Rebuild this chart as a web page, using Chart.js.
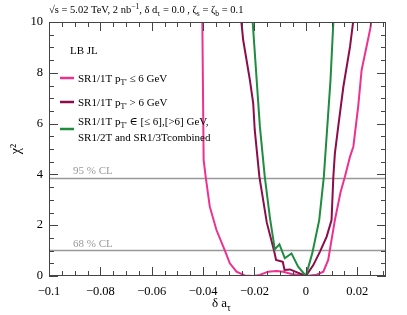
<!DOCTYPE html>
<html>
<head>
<meta charset="utf-8">
<script src="https://cdn.jsdelivr.net/npm/chart.js@4"></script>
<style>
  html, body { margin: 0; padding: 0; background: #fff; }
  canvas { display: block; }
</style>
</head>
<body>
<canvas id="chi2" width="407" height="315"></canvas>
<script>
// ---- data ----
const xTicks = [-0.1, -0.08, -0.06, -0.04, -0.02, 0, 0.02];
const yTicks = [0, 2, 4, 6, 8, 10];

// SR1/1T pT' <= 6 GeV
const lowX = [-0.0405, -0.0403, -0.0398, -0.039, -0.0374, -0.0348, -0.0316, -0.0296, -0.027, -0.0238, -0.0205, -0.018, -0.0147, -0.0114, -0.0088, -0.0056, 0, 0.0042, 0.0068, 0.0087, 0.0100, 0.0113, 0.0135, 0.0152, 0.0172, 0.0185, 0.0204, 0.0217, 0.0252, 0.0262];
const lowY = [11, 10, 4.57, 3.9, 2.73, 1.81, 1.02, 0.5, 0.17, 0.02, 0, 0.04, 0.17, 0.2, 0.17, 0.08, 0, 0.05, 0.17, 0.63, 1.42, 2.2, 3.3, 3.91, 4.7, 5.1, 6.7, 8.1, 9.8, 10.6];

// SR1/1T pT' > 6 GeV
const highX = [-0.0254, -0.0251, -0.0244, -0.0218, -0.0205, -0.0199, -0.0181, -0.0152, -0.0123, -0.0116, -0.0090, -0.0083, -0.0062, 0, 0.0029, 0.0055, 0.0081, 0.0100, 0.0107, 0.0113, 0.0126, 0.0146, 0.0172, 0.0185, 0.0190];
const highY = [11, 10, 9.29, 7.72, 6.8, 5.75, 3.91, 2.1, 0.96, 0.63, 0.56, 0.24, 0.26, 0, 0.43, 0.96, 1.55, 2.2, 3.91, 4.83, 5.88, 7.45, 9.03, 10.08, 11];

// combined
const combX = [-0.0210, -0.0207, -0.0179, -0.0160, -0.0140, -0.0121, -0.0103, -0.0082, -0.0056, -0.0030, 0, 0.0025, 0.0052, 0.0070, 0.0096, 0.0107, 0.0110];
const combY = [11, 10, 5.88, 3.91, 2.3, 1.05, 1.25, 0.7, 0.89, 0.37, 0, 0.9, 2.2, 3.91, 7.72, 10, 11];

const clLevels = [3.84, 1.0];
const clLabels = ["95 % CL", "68 % CL"];

const colLow = "#ee3190";
const colHigh = "#8d0c4a";
const colComb = "#1f8c40";
const serif = '"Liberation Serif", "DejaVu Serif", serif';

const pts = (xs, ys) => xs.map((x, i) => ({ x: x, y: ys[i] }));
const xMin = -0.1, xMax = 0.0312;

function richText(ctx, x, y, parts, size) {
    for (const [t, kind] of parts) {
        const fs = kind === "n" ? size : size * 0.72;
        const dy = kind === "sub" ? size * 0.3 : kind === "sup" ? -size * 0.42 : 0;
        ctx.font = fs + "px " + serif;
        ctx.fillText(t, x, y + dy);
        x += ctx.measureText(t).width;
    }
    return x;
}

// frame, inside ticks, texts and legend
const decor = {
    id: "decor",
    afterDatasetsDraw(chart) {
        const ctx = chart.ctx;
        const a = chart.chartArea;
        const sx = chart.scales.x, sy = chart.scales.y;
        ctx.save();
        ctx.strokeStyle = "#444";
        ctx.lineWidth = 1;
        ctx.strokeRect(a.left + 0.5, a.top + 0.5, a.right - a.left - 1, a.bottom - a.top - 1);
        ctx.beginPath();
        for (let v = -0.1; v <= xMax + 1e-9; v += 0.005) {
            const px = Math.round(sx.getPixelForValue(v)) + 0.5;
            const major = Math.abs(v / 0.02 - Math.round(v / 0.02)) < 1e-6;
            const len = major ? 9 : 5;
            ctx.moveTo(px, a.bottom); ctx.lineTo(px, a.bottom - len);
            ctx.moveTo(px, a.top); ctx.lineTo(px, a.top + len);
        }
        for (let v = 0; v <= 10 + 1e-9; v += 0.5) {
            const py = Math.round(sy.getPixelForValue(v)) + 0.5;
            const major = Math.abs(v / 2 - Math.round(v / 2)) < 1e-6;
            const len = major ? 9 : 5;
            ctx.moveTo(a.left, py); ctx.lineTo(a.left + len, py);
            ctx.moveTo(a.right, py); ctx.lineTo(a.right - len, py);
        }
        ctx.stroke();

        // CL labels
        ctx.fillStyle = "#999";
        ctx.font = "11px " + serif;
        clLevels.forEach((lv, i) => {
            ctx.fillText(clLabels[i], a.left + 24, sy.getPixelForValue(lv) - 4);
        });

        // header
        ctx.fillStyle = "#000";
        richText(ctx, a.left, 13, [["√s = 5.02 TeV, 2 nb", "n"], ["−1", "sup"], [", δ d", "n"], ["τ", "sub"],
            [" = 0.0 , ζ", "n"], ["s", "sub"], [" = ζ", "n"], ["b", "sub"], [" = 0.1", "n"]], 10.5);

        // legend
        ctx.font = "11px " + serif;
        ctx.fillText("LB JL", a.left + 21, 54);
        const leg = [
            [colLow, 78, [[["SR1/1T p", "n"], ["T'", "sub"], [" ≤ 6 GeV", "n"]]]],
            [colHigh, 102, [[["SR1/1T p", "n"], ["T'", "sub"], [" > 6 GeV", "n"]]]],
            [colComb, 129, [[["SR1/1T p", "n"], ["T'", "sub"], [" ∈ [≤ 6],[>6] GeV,", "n"]], [["SR1/2T and SR1/3Tcombined", "n"]]]]
        ];
        leg.forEach(([c, y, lines]) => {
            ctx.strokeStyle = c;
            ctx.lineWidth = 2.5;
            ctx.beginPath();
            ctx.moveTo(a.left + 11, y); ctx.lineTo(a.left + 25, y);
            ctx.stroke();
            ctx.fillStyle = "#000";
            if (lines.length === 1) {
                richText(ctx, a.left + 29, y + 4, lines[0], 11);
            } else {
                richText(ctx, a.left + 29, y - 4.5, lines[0], 11);
                richText(ctx, a.left + 29, y + 12, lines[1], 11);
            }
        });

        // axis titles
        ctx.fillStyle = "#000";
        ctx.font = "13px " + serif;
        const w = ctx.measureText("δ a").width + 6;
        richText(ctx, (a.left + a.right) / 2 - w / 2 + 5, 307, [["δ a", "n"], ["τ", "sub"]], 13);
        ctx.save();
        ctx.translate(20, (a.top + a.bottom) / 2);
        ctx.rotate(-Math.PI / 2);
        ctx.textAlign = "center";
        ctx.font = "14px " + serif;
        ctx.fillText("χ²", 0, 0);
        ctx.restore();
        ctx.restore();
    }
};

const fmt = v => {
    const r = Math.round(v * 100) / 100;
    return r < 0 ? "\u2212" + String(-r) : String(r);
};

const curve = (label, xs, ys, color) => ({
    label: label,
    data: pts(xs, ys),
    borderColor: color,
    borderWidth: 2,
    pointRadius: 0,
    showLine: true,
    tension: 0,
    clip: 0
});

new Chart(document.getElementById("chi2"), {
    type: "scatter",
    data: {
        datasets: [
            curve("combined", combX, combY, colComb),
            curve("SR1/1T pT' > 6 GeV", highX, highY, colHigh),
            curve("SR1/1T pT' <= 6 GeV", lowX, lowY, colLow),
            ...clLevels.map((lv, i) => ({
                label: clLabels[i],
                data: [{ x: xMin, y: lv }, { x: xMax, y: lv }],
                borderColor: "#999",
                borderWidth: 1.5,
                pointRadius: 0,
                showLine: true,
                clip: 0
            }))
        ]
    },
    options: {
        responsive: false,
        animation: false,
        devicePixelRatio: 1,
        layout: { padding: { left: 0, right: 21, top: 22, bottom: 0 } },
        plugins: { legend: { display: false }, tooltip: { enabled: false } },
        scales: {
            x: {
                type: "linear",
                min: xMin,
                max: xMax,
                grid: { display: false, drawTicks: false },
                border: { display: false },
                afterBuildTicks: s => { s.ticks = xTicks.map(v => ({ value: v })); },
                afterFit: s => { s.height = 39; },
                ticks: {
                    color: "#000",
                    padding: 8,
                    maxRotation: 0,
                    font: { family: serif, size: 12.5 },
                    callback: v => fmt(v)
                }
            },
            y: {
                min: 0,
                max: 10,
                grid: { display: false, drawTicks: false },
                border: { display: false },
                afterBuildTicks: s => { s.ticks = yTicks.map(v => ({ value: v })); },
                afterFit: s => { s.width = 49; },
                ticks: {
                    color: "#000",
                    padding: 6,
                    font: { family: serif, size: 12.5 },
                    callback: v => fmt(v)
                }
            }
        }
    },
    plugins: [decor]
});
</script>
</body>
</html>
